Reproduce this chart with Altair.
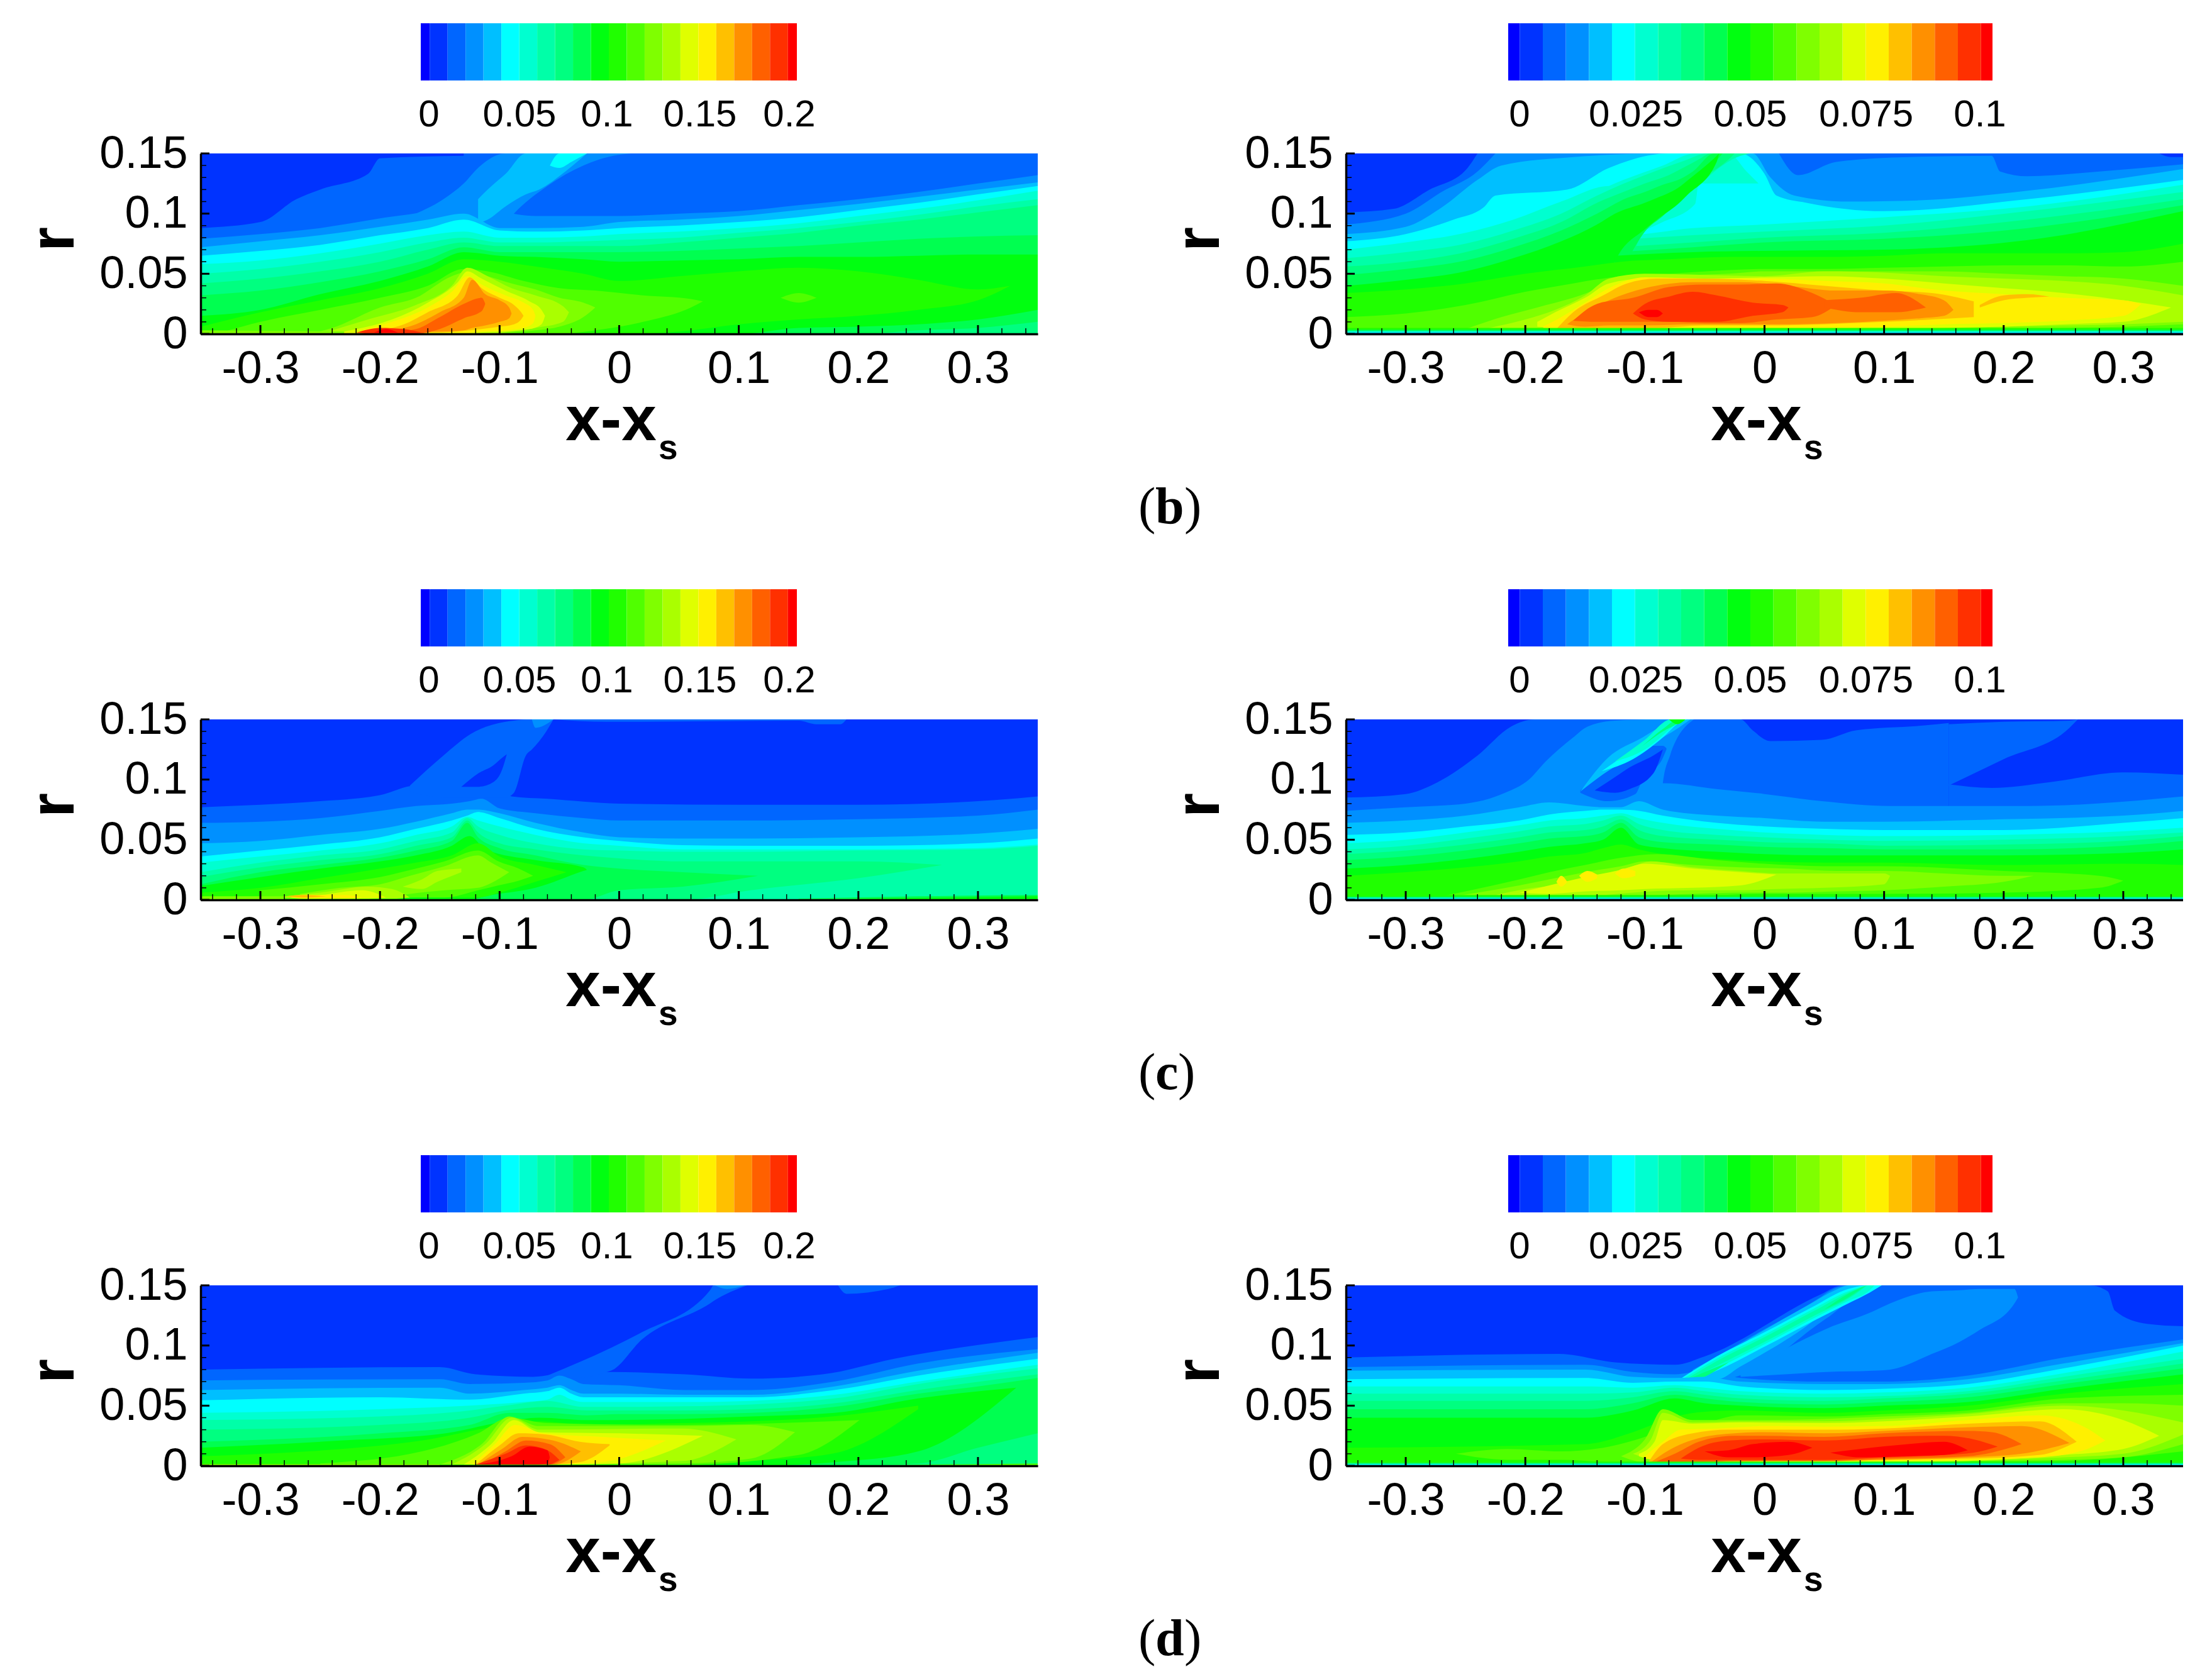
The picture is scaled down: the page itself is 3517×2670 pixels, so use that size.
import altair as alt
import pandas as pd

COLORS = ["#0000ff","#0033ff","#0066ff","#0090ff","#00bfff","#00ffff","#00ffd0","#00ffa8",
          "#00ff80","#00ff50","#00ff10","#20ff00","#50ff00","#7fff00","#aaff00","#dfff00",
          "#fff000","#ffc000","#ff9000","#ff6000","#ff3000","#ff0000"]
G = [-350,-300,-250,-200,-160,-130,-100,-70,-30,0,50,100,150,200,250,300,350]
X_MAJOR = [-0.3,-0.2,-0.1,0,0.1,0.2,0.3]
X_MINOR = [-0.34,-0.32,-0.28,-0.26,-0.24,-0.22,-0.18,-0.16,-0.14,-0.12,-0.08,-0.06,-0.04,-0.02,
           0.02,0.04,0.06,0.08,0.12,0.14,0.16,0.18,0.22,0.24,0.26,0.28,0.32,0.34]
Y_MAJOR = [0,0.05,0.1,0.15]
Y_MINOR = [0.01,0.02,0.03,0.04,0.06,0.07,0.08,0.09,0.11,0.12,0.13,0.14]
LEFT_LABELS = ["0","0.05","0.1","0.15","0.2"]
RIGHT_LABELS = ["0","0.025","0.05","0.075","0.1"]
CAPTIONS = ["b","c","d"]

# each band: (colour level, x in 1/1000, upper r in 1/1000, optional lower r in 1/1000)
PANEL_BL = [
 (2,[-350,350],[150,150]),
 (1,[-350,-300,-270,-250,-210,-200,-130],[150]*7,[88,93,112,120,133,146,148]),
 (3,G,[79,83,88,96,102,110,102,98,98,98,100,102,107,112,118,125,132]),
 (3,[-175,-147,-130,-118,-95,-88,-60,-30,-5,10],[98,112,125,138,150,150,150,150,150,150],[95,92,92,92,92,100,123,140,148,150]),
 (4,G,[72,77,82,89,95,100,88,88,89,93,95,98,103,108,114,120,126]),
 (4,[-118,-110,-95,-78,-67,-45,-27],[112,120,133,150,150,150,150],[92,95,106,116,120,135,150]),
 (5,G,[65,69,74,82,88,95,86,85,86,88,90,93,97,103,109,116,123]),
 (5,[-58,-50,-40,-27],[140,150,150,150],[140,138,143,150]),
 (6,G,[58,61,67,75,82,85,80,80,81,83,85,88,92,98,104,111,119]),
 (7,G,[50,54,60,68,76,80,76,76,77,78,80,84,88,93,99,106,112]),
 (8,G,[42,46,52,60,70,76,73,73,73,73,76,80,84,90,95,101,107]),
 (9,G,[32,36,43,52,62,72,68,68,68,68,69,71,73,76,79,81,82],[0,0,0,0,0,0,0,0,0,0,0,0,0,0,3,5,10]),
 (10,G,[15,20,33,44,56,68,65,64,62,60,61,62,64,64,65,66,66],[0,0,0,0,0,0,0,0,0,0,0,0,5,6,8,12,20]),
 (11,[-350,-300,-250,-200,-160,-130,-100,-70,-30,0,50,100,150,200,250,300,327],
     [6,18,28,38,50,62,60,56,50,44,48,52,55,52,45,37,40],
     [0,0,0,0,0,0,0,0,0,0,2,8,12,15,20,28,40]),
 (12,[-330,-300,-250,-200,-160,-130,-110,-80,-50,-20,20,60,70],[2,10,20,30,40,54,52,44,38,36,32,29,27],[0,0,0,0,0,0,0,0,0,3,10,22,27]),
 (12,[135,150,165],[30,34,30],[30,26,30]),
 (13,[-260,-240,-200,-170,-140,-125,-110,-90,-70,-50,-30,-20],[0,5,22,30,48,52,48,42,37,30,26,22],[0,0,0,0,0,0,0,1,3,6,14,22]),
 (14,[-250,-210,-170,-140,-127,-110,-90,-70,-47,-42],[0,12,24,40,55,48,38,32,23,18],[0,0,0,0,0,0,2,5,10,18]),
 (15,[-230,-190,-160,-135,-127,-115,-95,-75,-65,-62],[2,12,26,43,52,46,36,27,20,15],[0,0,0,0,0,1,2,4,8,15]),
 (16,[-215,-190,-160,-140,-127,-115,-95,-80,-72,-70],[3,10,22,35,48,41,32,26,20,15],[0,0,1,1,1,2,3,5,9,15]),
 (17,[-210,-180,-160,-135,-125,-115,-100,-88,-82,-80],[2,8,18,32,47,38,30,24,18,15],[1,1,1,2,3,4,6,8,12,15]),
 (18,[-200,-170,-150,-130,-123,-112,-100,-92,-90],[2,8,18,30,45,33,28,22,17],[1,2,2,3,5,7,10,13,17]),
 (19,[-195,-170,-150,-130,-115,-112],[1,4,14,25,30,25],[1,0,4,13,19,25]),
 (20,[-220,-200,-180,-165],[1,5,4,1],[1,0,0,1]),
 (21,[-205,-195,-185],[1,4,1],[1,1,1]),
 (13,[-350,-230],[3,2]),
]

BR_STRIP = [
 (11,[-350,350],[5,5]),(9,[-350,350],[3.5,3.5]),(6,[-350,350],[2.5,2.5]),(3,[-350,350],[1,1]),
]
PANEL_BR = [
 (3,[-350,350],[150,150]),
 (2,[-350,-300,-270,-240,-225],[150]*5,[91,100,118,135,150]),
 (1,[-350,-310,-280,-250,-240],[150]*5,[101,104,120,136,150]),
 (2,[12,28,60,120,190,197,220,280,350],[150]*9,[150,132,143,147,148,135,131,135,141]),
 (1,[330,340,350],[150,150,150],[150,147,147]),
 (4,[-350,-300,-270,-240,-220,-160,-85,-10,5,25,70,130,220,350],[83,89,105,128,140,147,150,150,130,115,110,111,119,137]),
 (5,[-350,-300,-260,-235,-225,-165,-130,-80,-20,0,10,35,100,220,350],[77,83,95,105,115,120,138,150,150,133,115,109,102,112,128]),
 (6,[-350,-300,-250,-210,-170,-130,-118,-60,0,100,220,350],[70,76,84,95,110,123,82,88,91,97,106,124]),
 (6,[-170,-130,-118,-85,-58,-55,-30,-15,-5],[110,123,128,140,150,150,150,135,125],[105,105,82,93,108,125,125,125,125]),
 (7,[-350,-300,-250,-210,-170,-140,-120,-100,-67,-48,-38,-20,-12],[63,68,75,86,100,115,124,132,144,150,150,150,150],[0,0,0,0,0,0,60,95,120,130,138,148,150]),
 (7,[-125,-60,0,100,220,350],[78,82,85,90,102,118]),
 (8,[-350,-300,-250,-210,-170,-140,-113,-100,-80,-70,-55,-45,-30,-25],[56,60,68,79,93,109,120,125,132,137,145,150,150,150],[0,0,0,0,0,0,60,88,105,113,128,134,145,150]),
 (8,[-125,-60,0,100,220,350],[72,76,80,84,95,112]),
 (9,[-350,-300,-250,-210,-170,-140,-115,-100,-85,-70,-60,-42,-35],[49,54,61,72,86,100,113,118,124,129,135,150,150],[0,0,0,0,0,0,60,85,98,112,122,142,150]),
 (9,[-125,-60,0,100,220,350],[68,72,76,79,88,107]),
 (10,[-350,-300,-250,-210,-170,-140,-125,-100,-90,-70,-65,-40,-38],[40,45,52,63,77,91,100,109,113,123,127,148,150],[0,0,0,0,0,0,60,87,95,110,115,143,150]),
 (10,[-125,-60,0,100,220,350],[65,68,69,70,78,102]),
 (11,[-350,-300,-250,-200,-150,-120,-80,-30,0,50,100,150,200,250,300,350],[34,37,42,50,56,60,62,64,64,64,65,67,67,67,68,75]),
 (12,[-350,-300,-250,-200,-160,-120,-80,-30,0,50,100,150,200,250,300,350],[14,17,24,35,42,48,50,53,54,54,55,56,57,57,56,60]),
 (13,[-250,-220,-190,-160,-120,-80,-30,0,50,100,150,200,250,300,350],[4,14,22,30,44,48,50,52,52,52,52,50,48,46,40],[4,4,4,4,4,4,4,4,4,4,4,4,5,6,8]),
 (14,[-230,-200,-175,-150,-130,-100,-50,0,50,100,150,200,250,300,350],[5,12,20,32,46,50,49,48,52,51,48,46,44,40,32],[4,4,4,4,4,4,4,4,4,4,5,6,7,8,10]),
 (15,[-190,-175,-150,-130,-100,-50,0,50,100,150,200,250,300,340],[10,18,30,42,46,46,47,48,46,42,38,34,28,22],[6,5,4,4,4,4,4,4,4,5,6,8,10,22]),
 (16,[-185,-170,-150,-130,-100,-50,0,50,100,150,200,250,300,315],[6,14,26,38,47,46,46,44,42,36,33,30,28,25],[5,4,5,5,4,4,5,5,6,8,9,11,15,25]),
 (17,[-175,-160,-135,-115,-90,-50,0,50,100,140,175],[3,18,32,42,46,46,44,40,36,34,27],[3,3,5,5,5,7,7,8,10,12,14]),
 (17,[180,200,220,238],[24,32,33,31],[22,28,30,31]),
 (18,[-165,-150,-130,-100,-60,-20,20,60,100,130,150,158],[8,18,28,38,43,43,40,36,36,33,28,20],[8,6,7,7,8,8,8,9,11,13,15,20]),
 (19,[-160,-140,-110,-80,-50,-20,10,40,60],[11,25,30,39,41,41,42,34,24],[11,10,10,10,9,9,12,14,24]),
 (19,[50,80,110,135],[28,30,34,22],[22,18,18,22]),
 (20,[-110,-100,-80,-60,-40,-10,15,20],[17,25,31,35,32,26,24,22],[17,12,10,10,10,15,18,22]),
 (21,[-105,-97,-90,-85],[18,20,20,17],[18,14,14,17]),
] + BR_STRIP

CXS = [-350,-300,-250,-200,-170,-140,-127,-118,-100,-70,-30,0,53,110,200,300,350]
PANEL_CL = [
 (1,[-350,350],[150,150]),
 (2,[-350,-300,-250,-200,-170,-140,-100,-90,-60,0,100,200,300,350],[77,79,82,87,95,90,90,86,84,80,79,79,82,86]),
 (2,[-175,-147,-124,-95,-88,-78,-73,-61,-55],[95,120,138,148,149,150,150,150,150],[90,85,85,85,89,120,125,140,150]),
 (2,[-55,-10,150,165,185,190],[150]*6,[150,148,149,146,146,150]),
 (3,[-73,-70,-55],[150,150,150],[150,143,150]),
 (1,[-132,-118,-105,-98,-94],[94,105,112,118,121],[94,94,98,108,121]),
 (3,[-350,-300,-250,-200,-170,-140,-125,-115,-100,-70,-30,0,100,200,300,350],[64,65,68,74,78,80,82,84,76,72,68,66,66,67,70,75]),
 (4,CXS,[47,49,54,59,65,72,75,75,72,64,56,52,51,51,52,55,59]),
 (5,CXS,[36,41,46,52,59,66,70,73,68,59,52,49,45.5,45,45,47,51]),
 (6,CXS,[31,36,41,47,54,61,69,66,61,54,47,45,42,42,42,43,46]),
 (7,CXS,[23,31,37,42,49,56,68,61,54,47,42,41,40,40,41,42,45]),
 (8,[-350,-300,-250,-200,-170,-140,-127,-118,-100,-70,-30,0,53,110,200,270],[19,27,33,38,45,52,66,56,47,42,37,34.5,32,32,32,29],[0,0,0,0,0,0,0,0,0,0,0,0,0,8,18,29]),
 (9,[-350,-300,-250,-200,-170,-140,-127,-118,-100,-70,-30,0,53,116],[13,23,29,35,41,49,64,52,43,37,29,26,23,20],[0,0,0,0,0,0,0,0,0,0,0,8,11,20]),
 (10,[-350,-300,-250,-200,-170,-140,-125,-112,-70,-30,-27],[11.5,19,26,32,37,45,53,42,33,27,25],[0,0,0,0,0,0,0,3,10,24,25]),
 (11,[-350,-300,-250,-200,-170,-140,-118,-100,-70,-44],[6,10,18,26,31,37,47,36,29,23],[0,0,0,0,2,2,2,6,15,23]),
 (12,[-300,-250,-200,-170,-146,-118,-101,-84,-72],[8,13,19,26,32,41,32,26,20],[0,0,1,2,2,8,12,16,20]),
 (13,[-267,-233,-200,-175,-146,-118,-107,-92],[5,10,13,20,28,37,31,23],[1,1,1,5,8,10,14,23]),
 (14,[-181,-165,-152,-132],[11,17,24,26],[11,9,15,23]),
 (14,[-290,-250,-210,-190,-175],[2,6,11,9,2],[2,1,1,1,2]),
 (15,[-275,-250,-215,-195],[2,4,8,2],[2,1,1,2]),
 (16,[-275,-260,-230,-215],[2,4,4,2],[2,1,1,2]),
 (17,[-278,-265,-245],[3,4,3],[3,2,3]),
 (13,[-350,-280],[3,3]),
 (9,[150,250,350],[1,3,4]),
 (10,[200,350],[1,3]),
]

DXS = [-350,-300,-250,-205,-180,-150,-135,-120,-105,-85,-40,0,50,100,200,300,350]
PANEL_CR = [
 (1,[-350,350],[150,150]),
 (2,[-350,-300,-275,-240,-212,-192,-20,-10,5,48,77,134,154],[85,88,97,120,144,150,150,141,132,133,141,145,147]),
 (2,[154,200,255,262],[146,148,149,150],[95,117,143,150]),
 (2,[154,190,240,300,350],[96,93,98,106,104]),
 (3,[-350,-300,-250,-217,-197,-183,-160,-148,-125,-90,-85,-79,-59],[74,77,80,89,100,115,135,144,149,150,150,150,150],[0,0,0,0,0,0,0,0,0,0,97,120,150]),
 (3,[-100,-85,-39,0,48,105,220,350],[97,97,92,88,82,78,78,86]),
 (2,[-154,-131,-108,-102,-85,-82],[91,110,122,128,128,126],[89,82,88,100,118,125]),
 (4,[-154,-131,-102,-85,-75,-62],[90,118,135,145,150,150],[90,107,123,135,141,150]),
 (1,[-142,-125,-113,-93,-85],[91,102,110,120,125],[91,89,92,105,125]),
 (5,[-136,-110,-85,-73,-65],[107,125,143,150,150],[107,117,135,146,150]),
 (6,[-125,-100,-78,-70],[115,133,150,150],[115,125,143,150]),
 (8,[-102,-85,-72,-68],[128,142,150,150],[128,140,147,150]),
 (10,[-80,-73,-66],[150,150,150],[150,146,150]),
 (4,DXS,[64,66,70,77,81,78,77,77,82,75,70,68,65,65,67,70,74]),
 (5,DXS,[54,56,61,66,71,74,75,75,74,70,64,61,59,58,58,64,68]),
 (6,DXS,[47,50,56,62,66,68,70,72,68,64,59,56,54,53,54,57,60]),
 (7,DXS,[42,45,51,57,61,63,66,70,63,58,54,52,50,49,50,53,56]),
 (8,DXS,[38,41,46,52,56,58,61,67,58,53,50,48,47,45,46,49,53]),
 (9,DXS,[33,36,41,47,51,53,56,64,52,48,46,44,43,42,42,45,49]),
 (10,DXS,[26,29,34,40,44,47,50,60,46,43,40,38,37,37,37,39,42]),
 (11,DXS,[20,23,27,32,36,39,43,46,42,38,34,32,31,31,29,30,29]),
 (12,[-280,-250,-205,-180,-150,-120,-90,-40,0,50,100,200,280,300],[1,7,17,23,29,35,38,33,30,28,28,24,20,16],[1,1,2,2,2,2,3,4,5,5,5,6,10,16]),
 (13,[-265,-240,-205,-175,-150,-120,-100,-60,-20,20,60,100,150,200,225],[2,6,12,18,23,28,32,29,27,26,24,24,22,20,20],[2,2,3,3,3,4,4,5,6,6,7,8,11,15,20]),
 (14,[-225,-200,-170,-140,-110,-95,-60,-20,10,50,100,105],[4,9,13,20,28,32,27,24,22,22,22,20],[4,3,4,4,6,7,8,8,9,10,13,20]),
 (15,[-205,-180,-150,-120,-100,-60,-20,10],[6,12,19,25,30,26,23,21],[6,5,7,8,9,10,12,21]),
 (16,[-174,-170,-165],[15,20,15],[15,11,15]),
 (16,[-155,-148,-140],[20,24,21],[20,15,18]),
 (16,[-125,-118,-108],[22,26,24],[22,18,20]),
 (11,[-350,350],[4,4]),(9,[-350,350],[2.8,2.8]),(6,[-350,350],[2,2]),(3,[-350,350],[0.8,0.8]),
]

PANEL_DL = [
 (1,[-350,350],[150,150]),
 (2,[-350,-150,-120,-72,-40,-7,55,110,170,230,350],[80,82,76,74,78,78,76,72.5,76,89,107]),
 (2,[-60,-7,19,76,79,107],[75,98,111,146,150,150],[70,79,105,135,137,150]),
 (2,[183,190,225,235],[150,150,150,150],[150,143,147,150]),
 (3,[80,90,105],[150,150,150],[150,147,150]),
 (3,[-350,-150,-125,-80,-60,-50,-40,-30,0,55,110,180,250,350],[71,72,68,69,71,75,72,68,67,63,63,70,85,97]),
 (4,[-350,-150,-125,-80,-60,-50,-40,-30,0,55,110,180,250,350],[63,65,60,63,65,67,63,60,60,59,59,66,79,94]),
 (5,[-350,-200,-125,-80,-60,-50,-40,-30,0,55,110,180,250,350],[54.5,57,55,60,62,65,60,57,57,57,57,63,75,89]),
 (6,[-350,-200,-125,-80,-60,-50,-40,-30,0,55,110,180,250,350],[44,47,50,53,55,59,55,53,53,53,54,59,70,84]),
 (7,[-350,-200,-125,-95,-60,-30,0,55,110,180,250,350],[38,41,46,50,54,49,49,49.5,51,56,68,81]),
 (8,[-350,-200,-125,-95,-60,-27,0,55,110,180,250,350],[30,34,40,46,49,46,46,46,47,52,63,76]),
 (9,[-350,-200,-125,-92,-60,-27,0,55,110,180,250,300,350],[20,27,34,44,44,42,43,43,44,49,60,66,73],[0,0,0,0,0,0,0,0,0,0,2,15,27]),
 (10,[-350,-233,-145,-95,-67,-27,53,110,180,250,332],[15,21,27,37,40,38,39,41,44,56,65],[0,0,0,0,0,0,0,0,3,12,65]),
 (11,[-350,-260,-165,-95,-67,-27,53,110,178,250],[8,12,21,34,37,34,35.5,37,41,50],[0,0,0,0,0,0,0,4,10,47]),
 (12,[-250,-165,-118,-92,-60,53,150,201],[2,12,27,40,35.5,34,36,38],[1,1,1,1,1,1,9,38]),
 (13,[-150,-115,-92,-67,53,110,147],[1,18,41,33,33,34,28],[1,1,1,1,2,6,28]),
 (14,[-140,-112,-90,-67,53,98],[1,18,40,30,31,22],[1,1,1,1,4,22]),
 (15,[-130,-107,-88,-67,0,70],[1,18,38,28,27,25],[1,1,1,1,2,25]),
 (16,[-123,-104,-87,-64,-15,39],[1,18,34,27,24,21],[1,1,1,1,3,21]),
 (17,[-120,-100,-84,-61,-33,-8],[1,17,27,26,20,18],[1,1,1,1,3,17]),
 (18,[-118,-98,-81,-55,-32],[1,14,24,21,12],[1,1,1,1,12]),
 (19,[-115,-95,-78,-58,-45],[1,12,21,18,7],[1,1,1,1,7]),
 (20,[-120,-95,-78,-60,-50],[1,10,17,13,5],[1,1,1,1,5]),
 (21,[-118,-90,-75,-60,-58],[1,8,16,13,7],[1,1,1,2,7]),
 (13,[-350,-150],[1.5,1.5]),
 (12,[220,350],[0.5,2]),
]

XF = [-350,-150,-110,-75,-50,-20,50,100,170,250,350]
PANEL_DR = [
 (1,[-350,350],[150,150]),
 (2,[-350,-172,-125,-75,-50,48,65,272,287,293,320,350],[90,93,86,84,91,143,150,150,145,129,118,116]),
 (3,[-20,17,52,90,105,140,163,180,209,212],[76,97,114,128,135,145,146,147,147,140],[74,76,78,79,80,93,103,113,135,140]),
 (3,XF,[82,84,78,76,79,73,70,70,75,90,105]),
 (3,[-60,-50,-10,48,54,71,97],[80,85,108,141,145,150,150],[70,70,79,120,124,137,150]),
 (4,[-60,-39,-21,39,59,71,85],[76,88,100,135,146,150,150],[72,72,82,119,135,143,150]),
 (5,[-80,-40,0,40,70,88,98],[66,91,111,132,147,150,150],[66,79,99,120,135,144,150]),
 (6,[-75,-40,0,40,70,88,92],[68,89,109,130,145,150,150],[66,81,101,122,137,146,150]),
 (7,[-72,-40,0,40,75,86],[68,87,107,128,146,150],[67,83,103,124,142,150]),
 (8,[-72,-50,-30],[68,78,86],[66,74,86]),
 (8,[50,70,85],[130,143,150],[130,140,150]),
 (4,XF,[79,80,74,73,74,70,68,68,72,85,102]),
 (5,XF,[72,73,69,70,70,66,63,64,68,81,100]),
 (6,XF,[66,66,65,67,65,62,60,61,65,77,95]),
 (7,XF,[60,60,61,65,62,59,57,58,62,74,89]),
 (8,XF,[54,54,57,62,59,56,54,56,60,71,85]),
 (9,XF,[47,47,52,59,56,53,51,53,57,68,81]),
 (10,XF,[40,40,46,56,52,50,48,50,53,64,76]),
 (11,XF,[15,18,28,41,45,46,44,46,50,60,68]),
 (12,[-258,-215,-170,-130,-100,-75,-50,-20,50,100,170,250,350],[10,14,12,16,24,33,36,42,41,43,46,56,59],[10,5,5,3,2,2,2,2,2,3,3,4,12]),
 (13,[-120,-100,-85,-60,-20,50,100,170,250,300,350],[8,22,47,38,38,39,41,44,52,52,50],[8,3,3,3,3,3,3,4,5,7,18]),
 (14,[-110,-95,-85,-60,-20,50,100,170,250,300,350],[10,22,44,36,37,37,39,43,50,46,36],[10,5,4,4,3,3,3,4,7,10,26]),
 (15,[-105,-92,-85,-60,-20,50,100,170,250,300,330],[10,20,38,35,36,35.5,37,41,47,38,25],[8,5,5,4,3,3,3,4,9,14,25]),
 (16,[-100,-85,-70,-40,0,50,100,170,230,270,285],[8,20,30,31,33,32.6,33,38,42,31,21],[6,5,4,3,3,3,4,5,7,14,21]),
 (17,[-97,-85,-60,-30,0,50,100,170,230,261],[3,18,27,30,30,30,31,35,37,20],[3,4,3,3,4,4,5,6,9,20]),
 (18,[-95,-80,-55,-25,0,50,100,170,215,255],[3,13,23,27,28,27,29,32,33,19],[3,3,4,4,4,4,5,7,10,19]),
 (19,[-92,-75,-55,-25,0,50,100,170,190,215],[3,10,20,25,25,24,27,29,28,18],[3,3,3,4,4,4,6,8,11,18]),
 (20,[-70,-55,-30,0,50,100,150,175,195],[6,15,21,22,21,24,25,22,16],[6,5,5,5,5,7,9,11,16]),
 (21,[-50,-30,-10,20,40],[12,13,18,20,15],[12,7,7,9,15]),
 (21,[55,80,120,150,170],[11,14,18,20,13],[11,7,8,9,13]),
 (11,[-350,350],[3.5,3.5]),(8,[-350,350],[2.5,2.5]),(5,[-350,350],[1.5,1.5]),
]

W, H = 1331, 287
FONT = "Liberation Sans"
COLOR = alt.Color("level:O", scale=alt.Scale(domain=list(range(22)), range=COLORS), legend=None)
XSCALE = alt.Scale(domain=[-0.35, 0.35], nice=False, zero=False)
YSCALE = alt.Scale(domain=[0, 0.15], nice=False, zero=False)
XAXIS = alt.Axis(
    values=X_MAJOR, labelExpr="'' + datum.value", ticks=False, grid=False, zindex=2,
    domainColor="black", domainWidth=3.5, labelFont=FONT, labelFontSize=72, labelColor="black",
    labelPadding=20, labelOverlap=False, labelFlush=False, title="x-x", titleFont=FONT,
    titleFontSize=100, titleFontWeight="bold", titleColor="black", titleX=652, titleY=168,
    titleBaseline="alphabetic", titleAlign="center")
YAXIS = alt.Axis(
    values=Y_MAJOR, labelExpr="'' + datum.value", ticks=False, grid=False, zindex=2,
    domainColor="black", domainWidth=3.5, labelFont=FONT, labelFontSize=72, labelColor="black",
    labelPadding=21, labelOverlap=False, labelFlush=False, title="r", titleFont=FONT,
    titleFontSize=100, titleFontWeight="bold", titleColor="black", titleX=-203, titleY=136,
    titleAngle=270, titleBaseline="alphabetic", titleAlign="center")


def panel(bands):
    rows = []
    for gid, band in enumerate(bands):
        level, xs, hi = band[:3]
        lo = band[3] if len(band) > 3 else [0] * len(xs)
        for a, b, c in zip(xs, hi, lo):
            rows.append({"gid": gid, "level": level, "x": a / 1000, "hi": b / 1000, "lo": c / 1000})
    area = alt.Chart(pd.DataFrame(rows)).mark_area(interpolate="monotone", clip=True).encode(
        x=alt.X("x:Q", scale=XSCALE, axis=XAXIS),
        y=alt.Y("hi:Q", scale=YSCALE, stack=None, axis=YAXIS),
        y2="lo:Q", color=COLOR, detail="gid:O")

    def xticks(vals, length, width):
        return alt.Chart(pd.DataFrame({"t": vals})).mark_rule(color="black", strokeWidth=width).encode(
            x=alt.X("t:Q", scale=XSCALE, axis=XAXIS), y=alt.value(H), y2=alt.value(H - length))

    def yticks(vals, length, width):
        return alt.Chart(pd.DataFrame({"t": vals})).mark_rule(color="black", strokeWidth=width).encode(
            y=alt.Y("t:Q", scale=YSCALE, axis=YAXIS), x=alt.value(0), x2=alt.value(length))

    sub = alt.Chart(pd.DataFrame({"t": ["s"]})).mark_text(
        font=FONT, fontSize=55, fontWeight="bold", align="left", baseline="alphabetic", color="black"
    ).encode(text="t:N", x=alt.value(728), y=alt.value(486))
    return alt.layer(area, xticks(X_MINOR, 9, 1.5), xticks(X_MAJOR, 14, 3), yticks(Y_MINOR, 9, 1.5),
                     yticks(Y_MAJOR, 14, 3), sub).properties(width=W, height=H)


def colorbar(maximum, start, length, labels, centers, height, shift):
    n = len(COLORS) - 1
    step = maximum / n
    cells = pd.DataFrame({
        "level": list(range(n + 1)),
        "a": [max(i - 0.5, 0) * step for i in range(n + 1)],
        "b": [min(i + 0.5, n) * step for i in range(n + 1)],
    })
    xscale = alt.Scale(domain=[-start / length * maximum, (W - start) / length * maximum], nice=False, zero=False)
    rect = alt.Chart(cells).mark_rect(strokeWidth=0).encode(
        x=alt.X("a:Q", scale=xscale, axis=None), x2="b:Q", color=COLOR,
        y=alt.value(37 - shift), y2=alt.value(128 - shift))
    tex = alt.Chart(pd.DataFrame({
        "t": labels, "v": [(c - start) / length * maximum for c in centers]
    })).mark_text(font=FONT, fontSize=60, align="center", baseline="alphabetic", color="black").encode(
        x=alt.X("v:Q", scale=xscale, axis=None), y=alt.value(201 - shift), text="t:N")
    return alt.layer(rect, tex).properties(width=W, height=height)


def gap(height, caption=None):
    if caption is None:
        return alt.Chart(pd.DataFrame({"t": [""]})).mark_text().encode(text="t:N").properties(width=W, height=height)
    close = 1518 + (36 if caption == "c" else 46)
    parts = pd.DataFrame({"t": ["(", caption, ")"], "w": ["normal", "bold", "normal"], "p": [1491, 1518, close]})
    normal = alt.Chart(parts).mark_text(font="Liberation Serif", fontSize=82, align="left", baseline="alphabetic", color="black")
    bold = alt.Chart(parts).mark_text(font="Liberation Serif", fontSize=82, fontWeight="bold", align="left", baseline="alphabetic", color="black")
    return alt.layer(
        normal.transform_filter("datum.w == 'normal'").encode(text="t:N", x=alt.X("p:Q", scale=None, axis=None), y=alt.value(301)),
        bold.transform_filter("datum.w == 'bold'").encode(text="t:N", x=alt.X("p:Q", scale=None, axis=None), y=alt.value(301)),
    ).properties(width=W, height=height)


LC = [363, 507, 646, 794, 936]
RC = [276, 461, 643, 827, 1008]
views = []
rows_def = [(PANEL_BL, PANEL_BR, "b"), (PANEL_CL, PANEL_CR, "c"), (PANEL_DL, PANEL_DR, "d")]
for i, (pl, pr, cap) in enumerate(rows_def):
    h = 236 if i == 0 else 244
    s = 8 if i == 0 else 0
    views.append(colorbar(0.2, 350, 598, LEFT_LABELS, LC, h, s))
    views.append(colorbar(0.1, 258, 770, RIGHT_LABELS, RC, h, s))
    views.append(panel(pl))
    views.append(panel(pr))
    gh = 369 if i < 2 else 331
    views.append(gap(gh, cap))
    views.append(gap(gh))

chart = alt.concat(*views, columns=2, spacing=alt.RowColnumber(row=0, column=490), bounds="flush").properties(
    padding={"left": 28, "top": 0, "right": 0, "bottom": 0}, background="white"
).configure_view(strokeWidth=0)

chart.save("out.html", embed_options={"renderer": "svg", "actions": False})
